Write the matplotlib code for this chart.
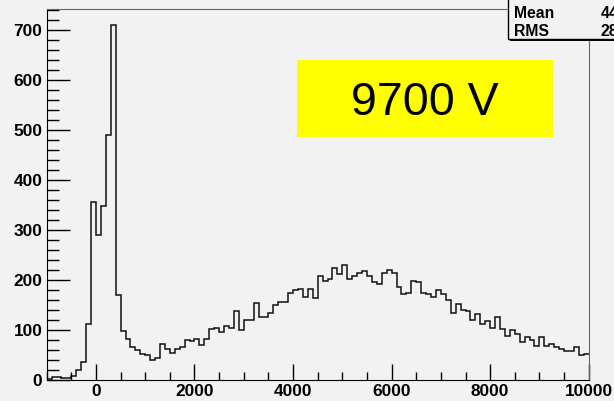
import matplotlib
matplotlib.use("Agg")
import matplotlib.pyplot as plt
import matplotlib.patches as patches
import numpy as np
from matplotlib.ticker import MultipleLocator

# histogram: 110 bins of width 100 from -1000 to 10000
bin_lo = -1000
bin_width = 100
counts = [
    1, 5, 5, 3, 4, 8, 20, 35, 112, 355,
    289, 347, 490, 710, 170, 97, 81, 65, 60, 51,
    49, 40, 43, 71, 61, 54, 62, 66, 80, 77,
    81, 69, 82, 102, 103, 96, 107, 104, 137, 100,
    119, 119, 153, 125, 125, 133, 150, 156, 156, 173,
    179, 181, 165, 181, 164, 207, 198, 201, 223, 211,
    229, 201, 207, 213, 218, 207, 195, 192, 213, 219,
    213, 185, 171, 173, 197, 195, 173, 171, 165, 179,
    172, 159, 133, 151, 140, 137, 120, 132, 112, 118,
    103, 125, 102, 87, 99, 91, 75, 85, 80, 67,
    85, 67, 71, 65, 62, 57, 57, 65, 50, 52,
]
x_ticks = [0, 2000, 4000, 6000, 8000, 10000]
y_ticks = [0, 100, 200, 300, 400, 500, 600, 700]
label_text = "9700 V"

bg = "#f2f2f2"
counts = np.array(counts, dtype=float)
edges = bin_lo + bin_width * np.arange(len(counts) + 1)
centers = 0.5 * (edges[:-1] + edges[1:])
mean = np.sum(counts * centers) / np.sum(counts)
rms = np.sqrt(np.sum(counts * (centers - mean) ** 2) / np.sum(counts))

fig = plt.figure(figsize=(6.14, 4.01), dpi=100, facecolor=bg)
ax = fig.add_axes([0.076, 0.0524, 0.8828, 0.9252], facecolor=bg)

ax.stairs(counts, edges, baseline=None, color="#111111", lw=1.1)

ax.set_xlim(edges[0], edges[-1])
ax.set_ylim(0, 742)
ax.set_xticks(x_ticks)
ax.set_yticks(y_ticks)
ax.xaxis.set_minor_locator(MultipleLocator(500))
ax.yaxis.set_minor_locator(MultipleLocator(20))
ax.tick_params(which="both", direction="in", top=False, right=False,
               color="black", width=1.0)
ax.tick_params(axis="x", which="major", length=11.5, pad=3)
ax.tick_params(axis="x", which="minor", length=6)
ax.tick_params(axis="y", which="major", length=16.5, pad=3)
ax.tick_params(axis="y", which="minor", length=8.3)
for lab in ax.get_xticklabels() + ax.get_yticklabels():
    lab.set_fontfamily("Liberation Sans")
    lab.set_fontweight("bold")
    lab.set_fontsize(12.4)
for side in ("top", "right"):
    ax.spines[side].set_color("#666666")
for side in ("left", "bottom"):
    ax.spines[side].set_color("black")

# voltage label
ax.add_artist(patches.Rectangle((297 / 614, 1 - 137 / 401), 256 / 614, 77 / 401,
                                transform=fig.transFigure, facecolor="#ffff00",
                                edgecolor="none", zorder=5))
fig.text(425 / 614, 1 - 103 / 401, label_text, ha="center", va="center",
         fontsize=33.5, family="Liberation Sans", color="black", zorder=6)

# statistics box, clipped by the canvas edge
bx, by = 507.7 / 614, 1 - 39 / 401
fig.patches.append(patches.Rectangle((bx + 2 / 614, by - 2 / 401), 0.3, 0.2,
                                     transform=fig.transFigure, facecolor="black",
                                     edgecolor="none", zorder=7))
fig.patches.append(patches.Rectangle((bx, by), 0.3, 0.2, transform=fig.transFigure,
                                     facecolor=bg, edgecolor="black", lw=1.0, zorder=8))
stat_font = dict(family="Liberation Sans", fontweight="bold", fontsize=11.3,
                 va="center", zorder=9)
fig.text(514 / 614, 1 - 13.3 / 401, "Mean", ha="left", **stat_font)
fig.text(514 / 614, 1 - 31.7 / 401, "RMS", ha="left", **stat_font)
fig.text(600.5 / 614, 1 - 13.3 / 401, f"{mean:.0f}", ha="left", **stat_font)
fig.text(600.5 / 614, 1 - 31.7 / 401, f"{rms:.0f}", ha="left", **stat_font)

fig.savefig("out.png", dpi=100, facecolor=bg)
